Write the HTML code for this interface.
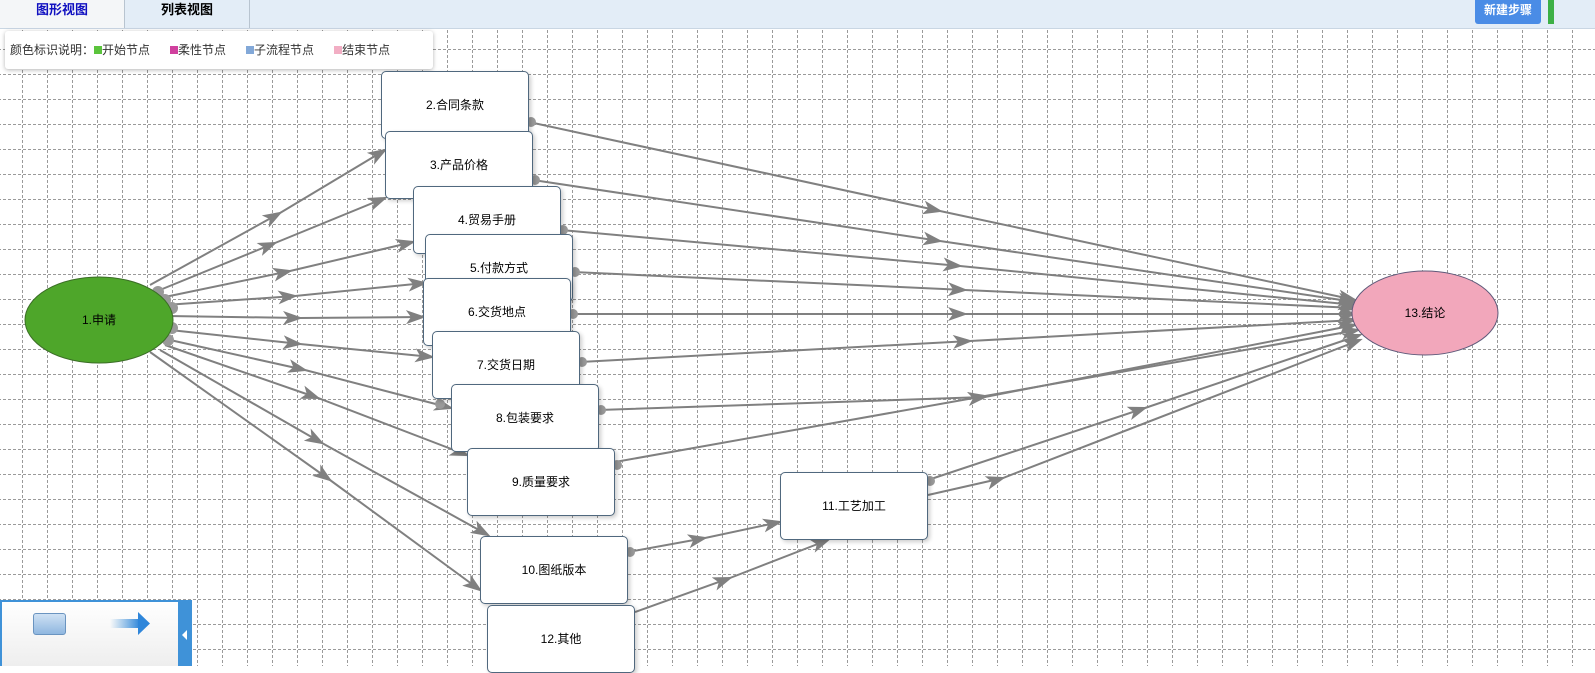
<!DOCTYPE html>
<html><head><meta charset="utf-8"><style>
body{margin:0;width:1595px;height:666px;overflow:hidden;position:relative;font-family:"Liberation Sans","Noto Sans CJK SC",sans-serif;background:#fff}
.top{position:absolute;left:0;top:0;width:1595px;height:28px;background:#e3edf7;border-bottom:1px solid #c9d6e3}
.tab{position:absolute;top:0;height:28px;line-height:20px;text-align:center;font-size:13px;font-weight:bold}
.n{position:absolute;width:146px;height:66px;background:#fff;border:1px solid #50687e;border-radius:5px;box-shadow:2px 2px 4px rgba(0,0,0,.2);font-size:12px;line-height:66px;text-align:center;color:#000}
</style></head><body>
<svg style="position:absolute;left:0;top:0" width="1595" height="666"><defs><pattern id="p" width="25" height="25" patternUnits="userSpaceOnUse" x="-2" y="0"><path d="M24.5,0 V25 M0,24.5 H25" stroke="#9a9a9a" stroke-width="1" stroke-dasharray="3,2" fill="none"/></pattern></defs><rect width="1595" height="666" fill="url(#p)"/></svg>
<div class="top"></div>
<div class="tab" style="left:0;width:124px;background:#f4f6f8;color:#1010c0;border-right:1px solid #b8c4d0">图形视图</div>
<div class="tab" style="left:125px;width:124px;color:#000;border-right:1px solid #b8c4d0">列表视图</div>
<div style="position:absolute;left:1475px;top:0;width:66px;height:24px;background:#4a8ce6;border-radius:0 0 3px 3px;color:#fff;font-size:12px;font-weight:bold;text-align:center;line-height:20px">新建步骤</div>
<div style="position:absolute;left:1548px;top:0;width:6px;height:24px;background:#3db046"></div>
<div style="position:absolute;left:5px;top:31px;width:428px;height:38px;background:#fff;box-shadow:0 1px 4px rgba(0,0,0,.3);border-radius:3px;font-size:12px;line-height:38px;color:#333;padding-left:5px;box-sizing:border-box;white-space:nowrap">颜色标识说明：<span style="display:inline-block;width:8px;height:8px;background:#5bc43c"></span>开始节点 &nbsp; &nbsp; &nbsp;<span style="display:inline-block;width:8px;height:8px;background:#d0409e"></span>柔性节点 &nbsp; &nbsp; &nbsp;<span style="display:inline-block;width:8px;height:8px;background:#82a8d8"></span>子流程节点 &nbsp; &nbsp; &nbsp;<span style="display:inline-block;width:8px;height:8px;background:#f2aec4"></span>结束节点</div>
<svg style="position:absolute;left:0;top:0" width="1595" height="666">
<defs><marker id="a" markerWidth="20" markerHeight="14" refX="17" refY="7" orient="auto" markerUnits="userSpaceOnUse"><path d="M0,0 L20,7 L0,14 L5,7 Z" fill="#808080"/></marker></defs>
<g stroke="#808080" stroke-width="2" fill="none" marker-mid="url(#a)" marker-end="url(#a)">
<polyline points="150,285 280,213 385,150"/>
<polyline points="155,292 275,243 385,198"/>
<polyline points="160,298 290,271 413,242"/>
<polyline points="165,305 295,296 425,283"/>
<polyline points="168,316 300,318 423,317"/>
<polyline points="170,330 300,344 432,357"/>
<polyline points="170,340 305,370 451,408"/>
<polyline points="165,345 318,398 467,455"/>
<polyline points="160,350 322,443 488,535"/>
<polyline points="150,352 330,480 480,590"/>
<polyline points="529,122 940,211 1355,300"/>
<polyline points="533,180 940,241 1355,302"/>
<polyline points="561,230 960,266 1355,305"/>
<polyline points="573,272 965,290 1355,308"/>
<polyline points="571,314 965,314 1355,314"/>
<polyline points="580,362 970,341 1355,320"/>
<polyline points="599,410 985,397 1355,325"/>
<polyline points="615,462 985,396 1358,330"/>
<polyline points="928,480 1145,408 1360,335"/>
<polyline points="928,495 1003,478 1360,340"/>
<polyline points="628,552 705,538 780,522"/>
<polyline points="635,612 730,578 828,540"/>
</g>
<g fill="#999">
<circle cx="158" cy="292" r="6"/><circle cx="165" cy="300" r="6"/><circle cx="172" cy="308" r="6"/><circle cx="172" cy="328" r="6"/><circle cx="168" cy="340" r="6"/>
<circle cx="531" cy="122" r="5"/><circle cx="535" cy="180" r="5"/><circle cx="563" cy="230" r="5"/><circle cx="575" cy="272" r="5"/><circle cx="573" cy="314" r="5"/><circle cx="582" cy="362" r="5"/><circle cx="601" cy="410" r="5"/><circle cx="617" cy="465" r="5"/><circle cx="930" cy="481" r="5"/><circle cx="630" cy="552" r="5"/><circle cx="440" cy="404" r="5"/>
</g>
<ellipse cx="99" cy="320" rx="74" ry="43" fill="#4ea62a" stroke="#3b6e26"/>
<text x="99" y="324" font-size="12" text-anchor="middle" font-family="Liberation Sans,Noto Sans CJK SC,sans-serif">1.申请</text>
<ellipse cx="1425" cy="313" rx="73" ry="42" fill="#f2a7bb" stroke="#5f5a7a"/>
<text x="1425" y="317" font-size="12" text-anchor="middle" font-family="Liberation Sans,Noto Sans CJK SC,sans-serif">13.结论</text>
</svg>
<div class="n" style="left:381px;top:71px">2.合同条款</div>
<div class="n" style="left:385px;top:131px">3.产品价格</div>
<div class="n" style="left:413px;top:186px">4.贸易手册</div>
<div class="n" style="left:425px;top:234px">5.付款方式</div>
<div class="n" style="left:423px;top:278px">6.交货地点</div>
<div class="n" style="left:432px;top:331px">7.交货日期</div>
<div class="n" style="left:451px;top:384px">8.包装要求</div>
<div class="n" style="left:467px;top:448px">9.质量要求</div>
<div class="n" style="left:480px;top:536px">10.图纸版本</div>
<div class="n" style="left:780px;top:472px">11.工艺加工</div>
<div class="n" style="left:487px;top:605px">12.其他</div>
<div style="position:absolute;left:0;top:600px;width:190px;height:66px;background:linear-gradient(#fff,#eee);border:2px solid #3f92d8;border-bottom:none;box-sizing:border-box"></div>
<div style="position:absolute;left:178px;top:600px;width:14px;height:66px;background:#3f92d8"></div>
<div style="position:absolute;left:182px;top:630px;width:0;height:0;border-top:5px solid transparent;border-bottom:5px solid transparent;border-right:5px solid #fff"></div>
<div style="position:absolute;left:33px;top:613px;width:31px;height:20px;background:linear-gradient(#cfe1f4,#8fb7e0);border:1px solid #6a94c0;border-radius:3px"></div>
<svg style="position:absolute;left:110px;top:610px" width="42" height="28"><defs><linearGradient id="g"><stop offset="0" stop-color="#3f92d8" stop-opacity="0"/><stop offset="1" stop-color="#2f86da"/></linearGradient></defs><rect x="0" y="9" width="30" height="9" fill="url(#g)"/><path d="M28,2 L40,13.5 L28,25 Z" fill="#2f86da"/></svg>
</body></html>
